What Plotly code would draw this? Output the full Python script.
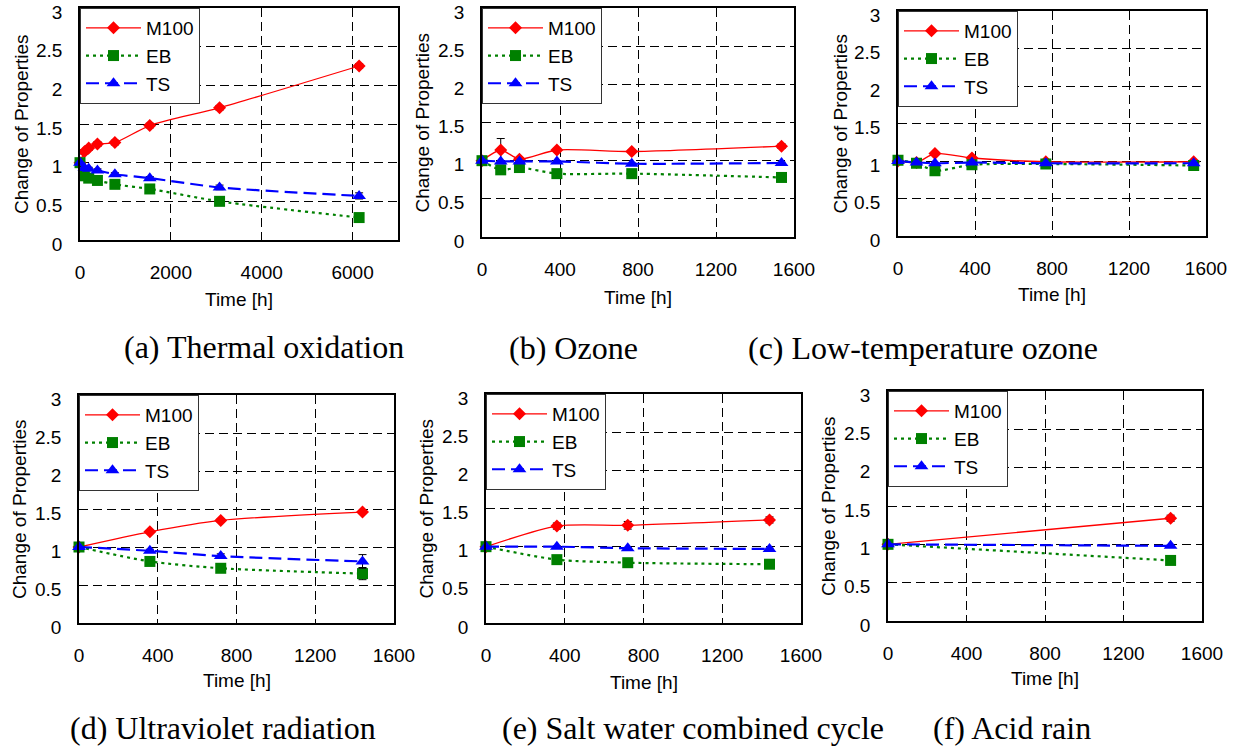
import plotly.graph_objects as go

W, H = 1243, 749

# ---------------- data ----------------
series_names = ["M100", "EB", "TS"]

t_a = [0, 96, 192, 384, 768, 1536, 3072, 6144]
a_m100 = [1.0, 1.14, 1.19, 1.24, 1.26, 1.48, 1.71, 2.25]
a_eb = [1.0, 0.83, 0.80, 0.77, 0.72, 0.66, 0.50, 0.29]
a_ts = [1.0, 0.93, 0.92, 0.90, 0.85, 0.80, 0.68, 0.57]
a_m100_err = [0, 0.03, 0.03, 0.03, 0.03, 0.03, 0.03, 0.03]
a_eb_err = [0, 0.02, 0.02, 0.02, 0.02, 0.02, 0.02, 0.03]
a_ts_err = [0, 0.02, 0.02, 0.02, 0.02, 0.02, 0.03, 0.04]

t_b = [0, 96, 192, 384, 768, 1536]
b_m100 = [1.0, 1.14, 1.02, 1.14, 1.12, 1.19]
b_eb = [1.0, 0.88, 0.91, 0.83, 0.83, 0.78]
b_ts = [1.0, 0.99, 0.99, 0.99, 0.96, 0.97]
b_m100_err = [0, 0.15, 0.02, 0.02, 0.02, 0.03]
b_eb_err = [0, 0.06, 0.02, 0.02, 0.02, 0.02]
b_ts_err = [0, 0.01, 0.01, 0.01, 0.01, 0.01]

t_c = [0, 96, 192, 384, 768, 1536]
c_m100 = [1.0, 0.98, 1.10, 1.04, 0.99, 0.99]
c_eb = [1.01, 0.97, 0.87, 0.95, 0.96, 0.94]
c_ts = [1.0, 0.98, 0.97, 0.98, 0.97, 0.97]
c_m100_err = [0, 0.01, 0.01, 0.01, 0.01, 0.01]
c_eb_err = [0, 0.01, 0.01, 0.01, 0.01, 0.01]
c_ts_err = [0, 0.01, 0.01, 0.01, 0.01, 0.01]

t_d = [0, 360, 720, 1440]
d_m100 = [1.0, 1.20, 1.35, 1.46]
d_eb = [1.0, 0.81, 0.72, 0.65]
d_ts = [1.0, 0.95, 0.88, 0.81]
d_m100_err = [0, 0.02, 0.02, 0.02]
d_eb_err = [0, 0.02, 0.02, 0.08]
d_ts_err = [0, 0.02, 0.03, 0.09]

t_e = [0, 360, 720, 1440]
e_m100 = [1.0, 1.27, 1.28, 1.35]
e_eb = [1.0, 0.83, 0.79, 0.77]
e_ts = [1.0, 1.0, 0.98, 0.97]
e_m100_err = [0, 0.04, 0.05, 0.04]
e_eb_err = [0, 0.02, 0.02, 0.02]
e_ts_err = [0, 0.01, 0.01, 0.01]

t_f = [0, 1440]
f_m100 = [1.0, 1.34]
f_eb = [1.0, 0.79]
f_ts = [1.0, 0.98]
f_m100_err = [0, 0.04]
f_eb_err = [0, 0.02]
f_ts_err = [0, 0.01]

captions = ["(a) Thermal oxidation", "(b) Ozone", "(c) Low-temperature ozone",
            "(d) Ultraviolet radiation", "(e) Salt water combined cycle", "(f) Acid rain"]
x_ticks_long = [0, 2000, 4000, 6000]
x_ticks_short = [0, 400, 800, 1200, 1600]
y_ticks = [0, 0.5, 1, 1.5, 2, 2.5, 3]
y_ticktext = ["0", "0.5", "1", "1.5", "2", "2.5", "3"]
x_title = "Time [h]"
y_title = "Change of Properties"

panels = [
    (t_a, [a_m100, a_eb, a_ts], [a_m100_err, a_eb_err, a_ts_err], 7000, x_ticks_long),
    (t_b, [b_m100, b_eb, b_ts], [b_m100_err, b_eb_err, b_ts_err], 1600, x_ticks_short),
    (t_c, [c_m100, c_eb, c_ts], [c_m100_err, c_eb_err, c_ts_err], 1600, x_ticks_short),
    (t_d, [d_m100, d_eb, d_ts], [d_m100_err, d_eb_err, d_ts_err], 1600, x_ticks_short),
    (t_e, [e_m100, e_eb, e_ts], [e_m100_err, e_eb_err, e_ts_err], 1600, x_ticks_short),
    (t_f, [f_m100, f_eb, f_ts], [f_m100_err, f_eb_err, f_ts_err], 1600, x_ticks_short),
]

# ---------------- layout geometry (pixels) ----------------
boxes = [  # left, right, top, bottom
    (80, 398, 8, 240),
    (482, 794, 8, 237),
    (898, 1206, 11, 236),
    (79, 394, 395, 623),
    (486, 801, 394, 623),
    (888, 1202, 391, 621),
]
xtitle_y = [300, 297, 294, 680, 682, 678]
ytitle_x = [22, 422, 840, 19, 426, 828]
caption_pos = [(264, 347), (573, 348), (923, 348), (223, 728), (693, 728), (1012, 728)]

styles = [
    dict(color="#ff0000", width=1.3, dash="solid", symbol="diamond", msize=10),
    dict(color="#008000", width=2.2, dash="3px,4px", symbol="square", msize=11),
    dict(color="#0000ff", width=2.2, dash="13px,6px", symbol="triangle-up", msize=12),
]

SANS = "Liberation Sans, Arial, sans-serif"
SERIF = "Liberation Serif, Times New Roman, serif"
FS = 19

fig = go.Figure()
layout = dict(
    width=W, height=H,
    margin=dict(l=0, r=0, t=0, b=0, pad=0, autoexpand=False),
    paper_bgcolor="white", plot_bgcolor="white", showlegend=True,
    font=dict(family=SANS, size=FS, color="black"),
)
annotations = []

def px_x(p):
    return p / W

def px_y(p):
    return 1 - p / H

for i, (t, ys, errs, xmax, xt) in enumerate(panels):
    k = "" if i == 0 else str(i + 1)
    lg = "legend" + k
    for j, name in enumerate(series_names):
        s = styles[j]
        fig.add_trace(go.Scatter(
            x=t, y=ys[j], name=name, mode="lines+markers",
            xaxis="x" + k, yaxis="y" + k, legend=lg,
            line=dict(color=s["color"], width=s["width"], dash=s["dash"],
                      shape="spline", smoothing=0.7),
            marker=dict(symbol=s["symbol"], size=s["msize"], color=s["color"],
                        line=dict(width=0)),
            error_y=dict(type="data", array=errs[j], color="black",
                         thickness=1, width=4, visible=True),
            cliponaxis=False,
        ))
    l, r, tp, b = boxes[i]
    layout["xaxis" + k] = dict(
        domain=[px_x(l), px_x(r)], anchor="y" + k, range=[0, xmax],
        tickvals=xt, ticktext=[str(v) for v in xt], ticks="",
        ticklabelstandoff=14, automargin=False, ticklabeloverflow="allow",
        showgrid=True, gridcolor="black", gridwidth=1, griddash="9px,5px",
        zeroline=False, showline=True, linecolor="black", linewidth=1.5,
        mirror=True, tickfont=dict(family=SANS, size=FS, color="black"),
        fixedrange=True,
    )
    layout["yaxis" + k] = dict(
        domain=[px_y(b), px_y(tp)], anchor="x" + k, range=[0, 3],
        tickvals=y_ticks, ticktext=y_ticktext, ticks="",
        ticklabelstandoff=12, ticklabelshift=4, automargin=False,
        ticklabeloverflow="allow",
        showgrid=True, gridcolor="black", gridwidth=1, griddash="9px,5px",
        zeroline=False, showline=True, linecolor="black", linewidth=1.5,
        mirror=True, tickfont=dict(family=SANS, size=FS, color="black"),
        fixedrange=True,
    )
    layout[lg] = dict(
        x=px_x(l), y=px_y(tp), xanchor="left", yanchor="top",
        bgcolor="white", bordercolor="#333", borderwidth=1,
        font=dict(family=SANS, size=FS, color="black"),
        itemwidth=55, traceorder="normal",
    )
    annotations.append(dict(
        x=px_x((l + r) / 2), y=px_y(xtitle_y[i]), xref="paper", yref="paper",
        text=x_title, showarrow=False, xanchor="center", yanchor="middle",
        font=dict(family=SANS, size=19, color="black"),
    ))
    annotations.append(dict(
        x=px_x(ytitle_x[i]), y=px_y((tp + b) / 2), xref="paper", yref="paper",
        text=y_title, showarrow=False, xanchor="center", yanchor="middle",
        textangle=-90, font=dict(family=SANS, size=19, color="black"),
    ))
    cx, cy = caption_pos[i]
    annotations.append(dict(
        x=px_x(cx), y=px_y(cy), xref="paper", yref="paper",
        text=captions[i], showarrow=False, xanchor="center", yanchor="middle",
        font=dict(family=SERIF, size=32, color="black"),
    ))

layout["annotations"] = annotations
fig.update_layout(**layout)
fig.write_html("out.html")
